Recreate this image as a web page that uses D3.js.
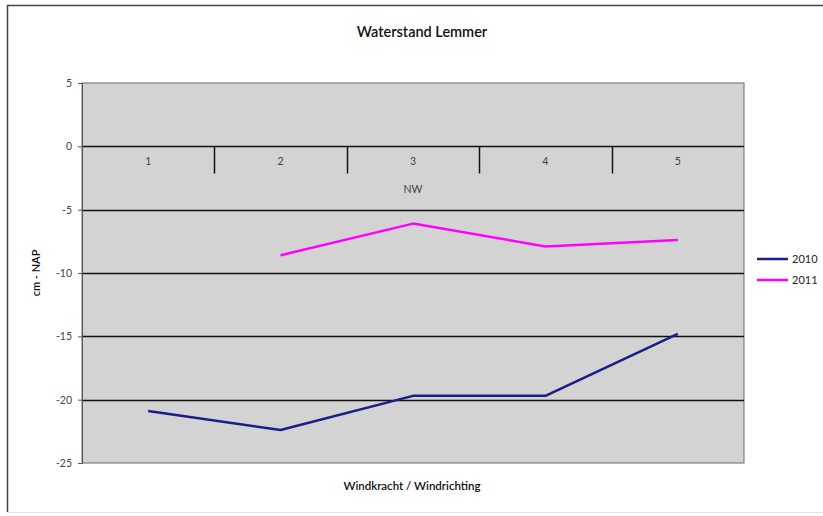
<!DOCTYPE html>
<html>
<head>
<meta charset="utf-8">
<script src="https://cdn.jsdelivr.net/npm/d3@7/dist/d3.min.js"></script>
<style>
  html, body { margin: 0; padding: 0; background: #fff; }
  svg { display: block; }
  text { font-family: Lato, "Open Sans", sans-serif; }
</style>
</head>
<body>
<svg id="chart" width="823" height="516"></svg>
<script>
// Waterstand Lemmer: water level (cm - NAP) per wind force, NW wind
const categories = ["1", "2", "3", "4", "5"];
const groupLabel = "NW";
const seriesNames = ["2010", "2011"];
const values2010 = [-20.9, -22.4, -19.7, -19.7, -14.8];
const values2011 = [null, -8.6, -6.1, -7.9, -7.4];
const yTicks = [5, 0, -5, -10, -15, -20, -25];
const seriesColors = ["#1c1c8a", "#ff00ff"];

const svg = d3.select("#chart");
const W = 823, H = 516;
const plot = { left: 82, right: 744, top: 83, bottom: 463 };

// outer frame
svg.append("line").attr("x1", 7).attr("x2", W).attr("y1", 5.5).attr("y2", 5.5)
  .attr("stroke", "#444").attr("stroke-width", 1.5);
svg.append("line").attr("x1", 7.5).attr("x2", 7.5).attr("y1", 5).attr("y2", 512)
  .attr("stroke", "#444").attr("stroke-width", 1.5);
svg.append("line").attr("x1", 7).attr("x2", W).attr("y1", 512.5).attr("y2", 512.5)
  .attr("stroke", "#e4e4e4").attr("stroke-width", 1);

const x = d3.scaleBand().domain(categories).range([plot.left, plot.right]).padding(0);
const y = d3.scaleLinear().domain([-25, 5]).range([plot.bottom, plot.top]);

// plot background
svg.append("rect")
  .attr("x", plot.left).attr("y", plot.top)
  .attr("width", plot.right - plot.left).attr("height", plot.bottom - plot.top)
  .attr("fill", "#d3d3d3").attr("stroke", "#6a6a6a").attr("stroke-width", 1);

// horizontal gridlines
svg.append("g").selectAll("line").data(yTicks.filter(d => d !== 5 && d !== -25)).join("line")
  .attr("x1", plot.left).attr("x2", plot.right)
  .attr("y1", d => Math.round(y(d)) + 0.5).attr("y2", d => Math.round(y(d)) + 0.5)
  .attr("stroke", "#111").attr("stroke-width", 1.5);

// y axis (plain hyphen for negative numbers)
const yAxis = svg.append("g").attr("transform", `translate(${plot.left},0)`)
  .call(d3.axisLeft(y).tickValues(yTicks).tickSize(4).tickPadding(6).tickFormat(d => String(d)));
yAxis.select(".domain").attr("stroke", "#555");
yAxis.selectAll(".tick line").attr("stroke", "#555");
yAxis.selectAll(".tick text").attr("font-size", 10.5).attr("fill", "#444")
  .attr("font-family", "Lato, sans-serif");

// category axis sitting on the zero line
const y0 = Math.round(y(0)) + 0.5;
const xAxis = svg.append("g").attr("transform", `translate(0,${y0})`)
  .call(d3.axisBottom(x).tickSize(0).tickPadding(11));
xAxis.select(".domain").remove();
xAxis.selectAll(".tick text").attr("font-size", 10.5).attr("fill", "#444")
  .attr("font-family", "Lato, sans-serif");

// dividers between categories
svg.append("g").selectAll("line").data(categories.slice(1)).join("line")
  .attr("x1", d => Math.round(x(d)) + 0.5).attr("x2", d => Math.round(x(d)) + 0.5)
  .attr("y1", y0).attr("y2", y0 + 27)
  .attr("stroke", "#111").attr("stroke-width", 1.5);

// group label under all categories
svg.append("text")
  .attr("x", (plot.left + plot.right) / 2).attr("y", y0 + 46)
  .attr("text-anchor", "middle").attr("font-size", 10.5).attr("fill", "#444")
  .text(groupLabel);

// series lines
const line = d3.line()
  .defined(d => d.v !== null)
  .x(d => x(d.c) + x.bandwidth() / 2)
  .y(d => y(d.v));
[values2010, values2011].forEach((vals, i) => {
  svg.append("path")
    .datum(categories.map((c, j) => ({ c, v: vals[j] })))
    .attr("fill", "none").attr("stroke", seriesColors[i])
    .attr("stroke-width", 2.5).attr("stroke-linejoin", "round")
    .attr("d", line);
});

// legend
const legend = svg.append("g").attr("transform", "translate(757,259)");
seriesNames.forEach((name, i) => {
  const g = legend.append("g").attr("transform", `translate(0,${i * 21})`);
  g.append("line").attr("x1", 0).attr("x2", 31).attr("y1", 0).attr("y2", 0)
    .attr("stroke", seriesColors[i]).attr("stroke-width", 2.5);
  g.append("text").attr("x", 35).attr("y", 4).attr("font-size", 11).attr("fill", "#222")
    .text(name);
});

// titles
svg.append("text").attr("x", 422).attr("y", 37).attr("text-anchor", "middle")
  .attr("font-size", 14.5).attr("font-weight", 600).attr("fill", "#111")
  .text("Waterstand Lemmer");
svg.append("text").attr("x", 412).attr("y", 490).attr("text-anchor", "middle")
  .attr("font-size", 11.5).attr("font-weight", 600).attr("fill", "#111")
  .text("Windkracht / Windrichting");
svg.append("text")
  .attr("transform", `translate(40,${(plot.top + plot.bottom) / 2}) rotate(-90)`)
  .attr("text-anchor", "middle").attr("font-size", 11).attr("font-weight", 600).attr("fill", "#111")
  .text("cm - NAP");
</script>
</body>
</html>
